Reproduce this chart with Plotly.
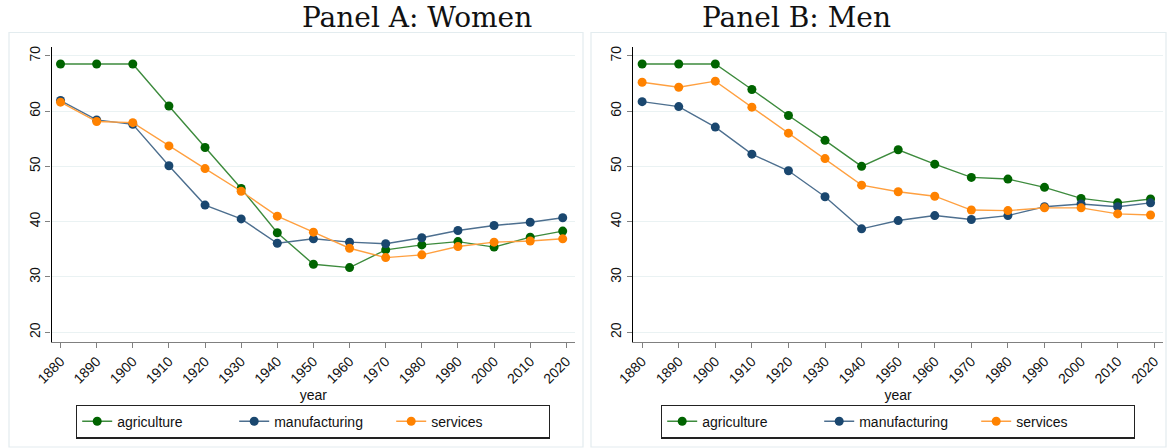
import plotly.graph_objects as go

years = [1880, 1890, 1900, 1910, 1920, 1930, 1940, 1950, 1960, 1970, 1980, 1990, 2000, 2010, 2019]
x_ticks = [1880, 1890, 1900, 1910, 1920, 1930, 1940, 1950, 1960, 1970, 1980, 1990, 2000, 2010, 2020]
y_ticks = [20, 30, 40, 50, 60, 70]

women_agriculture = [68.5, 68.5, 68.5, 60.9, 53.4, 46.0, 38.0, 32.3, 31.7, 34.9, 35.8, 36.4, 35.4, 37.2, 38.3]
women_manufacturing = [61.9, 58.4, 57.6, 50.1, 43.0, 40.5, 36.1, 36.9, 36.3, 36.0, 37.1, 38.4, 39.3, 39.9, 40.7]
women_services = [61.6, 58.1, 57.9, 53.7, 49.6, 45.5, 41.0, 38.1, 35.2, 33.5, 34.0, 35.5, 36.3, 36.5, 36.9]

men_agriculture = [68.5, 68.5, 68.5, 63.9, 59.2, 54.7, 50.0, 53.0, 50.4, 48.0, 47.7, 46.2, 44.2, 43.4, 44.1]
men_manufacturing = [61.7, 60.8, 57.1, 52.2, 49.2, 44.5, 38.7, 40.2, 41.1, 40.4, 41.1, 42.7, 43.2, 42.7, 43.4]
men_services = [65.2, 64.3, 65.4, 60.7, 56.0, 51.4, 46.6, 45.4, 44.6, 42.1, 42.0, 42.5, 42.5, 41.4, 41.2]

series_names = ["agriculture", "manufacturing", "services"]
panel_titles = ["Panel A: Women", "Panel B: Men"]

W, H = 1167, 448
marker_colors = ["#006400", "#1a476f", "#ff8200"]
line_colors = ["#3d8b3d", "#4d6f8f", "#ffa040"]

fig = go.Figure()

panels = [
    ([women_agriculture, women_manufacturing, women_services], "x", "y", "legend"),
    ([men_agriculture, men_manufacturing, men_services], "x2", "y2", "legend2"),
]
for data, xa, ya, leg in panels:
    for name, vals, mc, lc in zip(series_names, data, marker_colors, line_colors):
        fig.add_trace(go.Scatter(
            x=years, y=vals, name=name, mode="lines+markers",
            xaxis=xa, yaxis=ya, legend=leg,
            line=dict(color=lc, width=1.4),
            marker=dict(color=mc, size=9, line=dict(width=0)),
        ))

def px(x):
    return x / W

def py(y):
    return 1 - y / H

font_sans = "Liberation Sans, Arial, sans-serif"
ytop, ybot = 46.7, 341.7

xaxis_common = dict(
    range=[1877.5, 2022.4], tickvals=x_ticks, ticktext=[str(t) for t in x_ticks],
    tickangle=-45, ticks="outside", ticklen=5, tickcolor="#808080",
    showline=True, linecolor="#808080", linewidth=1.2, showgrid=False, zeroline=False,
    tickfont=dict(family=font_sans, size=14, color="#111"),
    title=dict(text="year", font=dict(family=font_sans, size=14, color="#111"), standoff=1),
    automargin=False,
)
yaxis_common = dict(
    range=[18.3, 71.63], tickvals=y_ticks, tickangle=-90,
    ticks="outside", ticklen=5, tickcolor="#808080",
    showline=True, linecolor="#000000", linewidth=1.2,
    showgrid=True, gridcolor="#eaf2f3", gridwidth=1, zeroline=False,
    tickfont=dict(family=font_sans, size=14, color="#111"),
    domain=[py(ybot), py(ytop)],
    automargin=False,
)

legend_common = dict(
    orientation="h", y=py(404.5), yanchor="top",
    bordercolor="#222", borderwidth=1.2, bgcolor="white",
    font=dict(family=font_sans, size=14, color="#111"),
    entrywidth=112, entrywidthmode="pixels",
    tracegroupgap=0,
)

fig.update_layout(
    width=W, height=H,
    margin=dict(l=0, r=0, t=0, b=0),
    paper_bgcolor="white", plot_bgcolor="white",
    xaxis=dict(xaxis_common, domain=[px(51.5), px(575)], anchor="y"),
    yaxis=dict(yaxis_common, anchor="x"),
    xaxis2=dict(xaxis_common, domain=[px(633), px(1163)], anchor="y2"),
    yaxis2=dict(yaxis_common, anchor="x2"),
    legend=dict(legend_common, x=px(313), xanchor="center"),
    legend2=dict(legend_common, x=px(898), xanchor="center"),
    showlegend=True,
)

# panel borders
for x0, x1 in [(9, 583), (591, 1166)]:
    fig.add_shape(type="rect", xref="paper", yref="paper",
                  x0=px(x0), x1=px(x1), y0=py(447), y1=py(32.5),
                  line=dict(color="#e3ecef", width=1.2), fillcolor="rgba(0,0,0,0)", layer="below")

for title, cx in zip(panel_titles, [417, 796]):
    fig.add_annotation(text=title, xref="paper", yref="paper", x=px(cx), y=py(18),
                       xanchor="center", yanchor="middle", showarrow=False,
                       font=dict(family="DejaVu Serif, Liberation Serif, serif", size=28, color="#111"))

fig.write_html("out.html", config={"displayModeBar": False},
               post_script="document.body.style.margin='0';document.body.style.overflow='hidden';")
